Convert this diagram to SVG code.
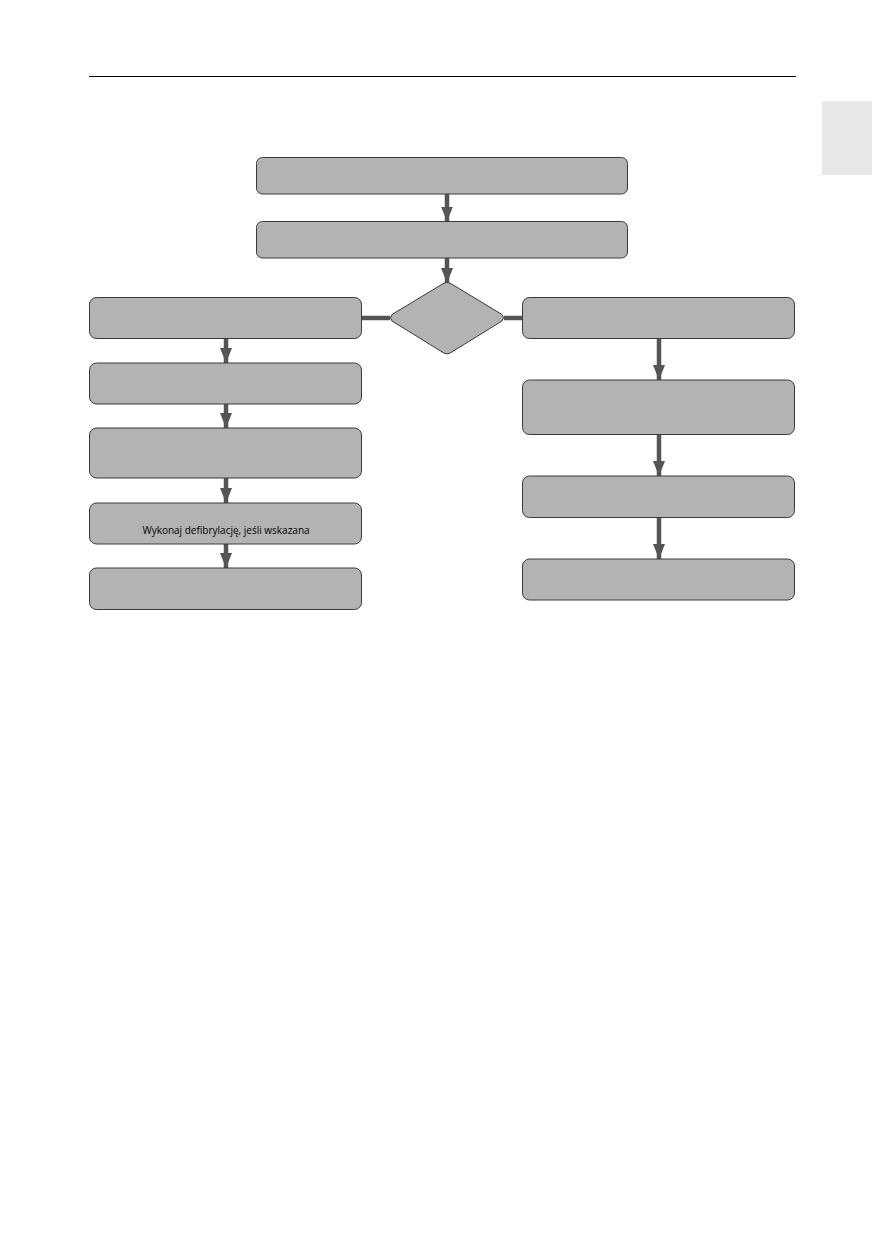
<svg xmlns="http://www.w3.org/2000/svg" width="872" height="1254" viewBox="0 0 872 1254">
<defs>
<style>
.box{fill:#b3b3b3;stroke:#3a3a3a;stroke-width:1}
.conn{stroke:#555;stroke-width:4.5;fill:none}
.head{fill:#555}
.lbl{font-family:"Open Sans","Liberation Sans",sans-serif;font-size:10px;fill:#000;text-anchor:middle}
</style>
<marker id="arr" viewBox="0 0 15 12" refX="15" refY="6" markerUnits="userSpaceOnUse" markerWidth="15" markerHeight="12" orient="auto">
<path d="M0,0 L15,6 L0,12 Z" class="head"/>
</marker>
</defs>
<rect width="872" height="1254" fill="#fff"/>
<line x1="89" y1="76.5" x2="796" y2="76.5" stroke="#000" stroke-width="1"/>
<rect x="822" y="101" width="50" height="74" fill="#e8e8e8"/>

<g id="connectors">
<line class="conn" x1="447" y1="194" x2="447" y2="221.5" marker-end="url(#arr)"/>
<line class="conn" x1="447" y1="258" x2="447" y2="283" marker-end="url(#arr)"/>
<line class="conn" x1="361" y1="318" x2="390" y2="318"/>
<line class="conn" x1="504" y1="318" x2="522" y2="318"/>
<line class="conn" x1="226" y1="338" x2="226" y2="363" marker-end="url(#arr)"/>
<line class="conn" x1="226" y1="404" x2="226" y2="428" marker-end="url(#arr)"/>
<line class="conn" x1="226" y1="478" x2="226" y2="503" marker-end="url(#arr)"/>
<line class="conn" x1="226" y1="544" x2="226" y2="568" marker-end="url(#arr)"/>
<line class="conn" x1="659" y1="338" x2="659" y2="380" marker-end="url(#arr)"/>
<line class="conn" x1="659" y1="435" x2="659" y2="476" marker-end="url(#arr)"/>
<line class="conn" x1="659" y1="518" x2="659" y2="559" marker-end="url(#arr)"/>
</g>

<g id="n1"><rect class="box" x="256.5" y="157.5" width="371" height="36.5" rx="6"/></g>
<g id="n2"><rect class="box" x="256.5" y="221.5" width="371" height="36.5" rx="6"/></g>
<g id="decision"><path class="box" d="M447,282.5 Q449,282.5 451,283.7 L502,314.5 Q505,317.8 502,321 L451,352.5 Q449,353.8 447,353.8 Q445,353.8 443,352.5 L392,321 Q389,317.8 392,314.5 L443,283.7 Q445,282.5 447,282.5 Z"/></g>
<g id="l1"><rect class="box" x="89.5" y="297.5" width="272" height="41" rx="7"/></g>
<g id="l2"><rect class="box" x="89.5" y="363" width="272" height="41" rx="7"/></g>
<g id="l3"><rect class="box" x="89.5" y="428" width="272" height="50" rx="7"/></g>
<g id="l4"><rect class="box" x="89.5" y="503" width="272" height="41" rx="7"/>
<text class="lbl" x="226" y="534">Wykonaj defibrylację, jeśli wskazana</text></g>
<g id="l5"><rect class="box" x="89.5" y="568" width="272" height="41.5" rx="7"/></g>
<g id="r1"><rect class="box" x="522.5" y="297.5" width="272" height="41" rx="7"/></g>
<g id="r2"><rect class="box" x="522.5" y="380" width="272" height="54.5" rx="7"/></g>
<g id="r3"><rect class="box" x="522.5" y="476" width="272" height="41.5" rx="7"/></g>
<g id="r4"><rect class="box" x="522.5" y="559" width="272" height="41" rx="7"/></g>
</svg>
